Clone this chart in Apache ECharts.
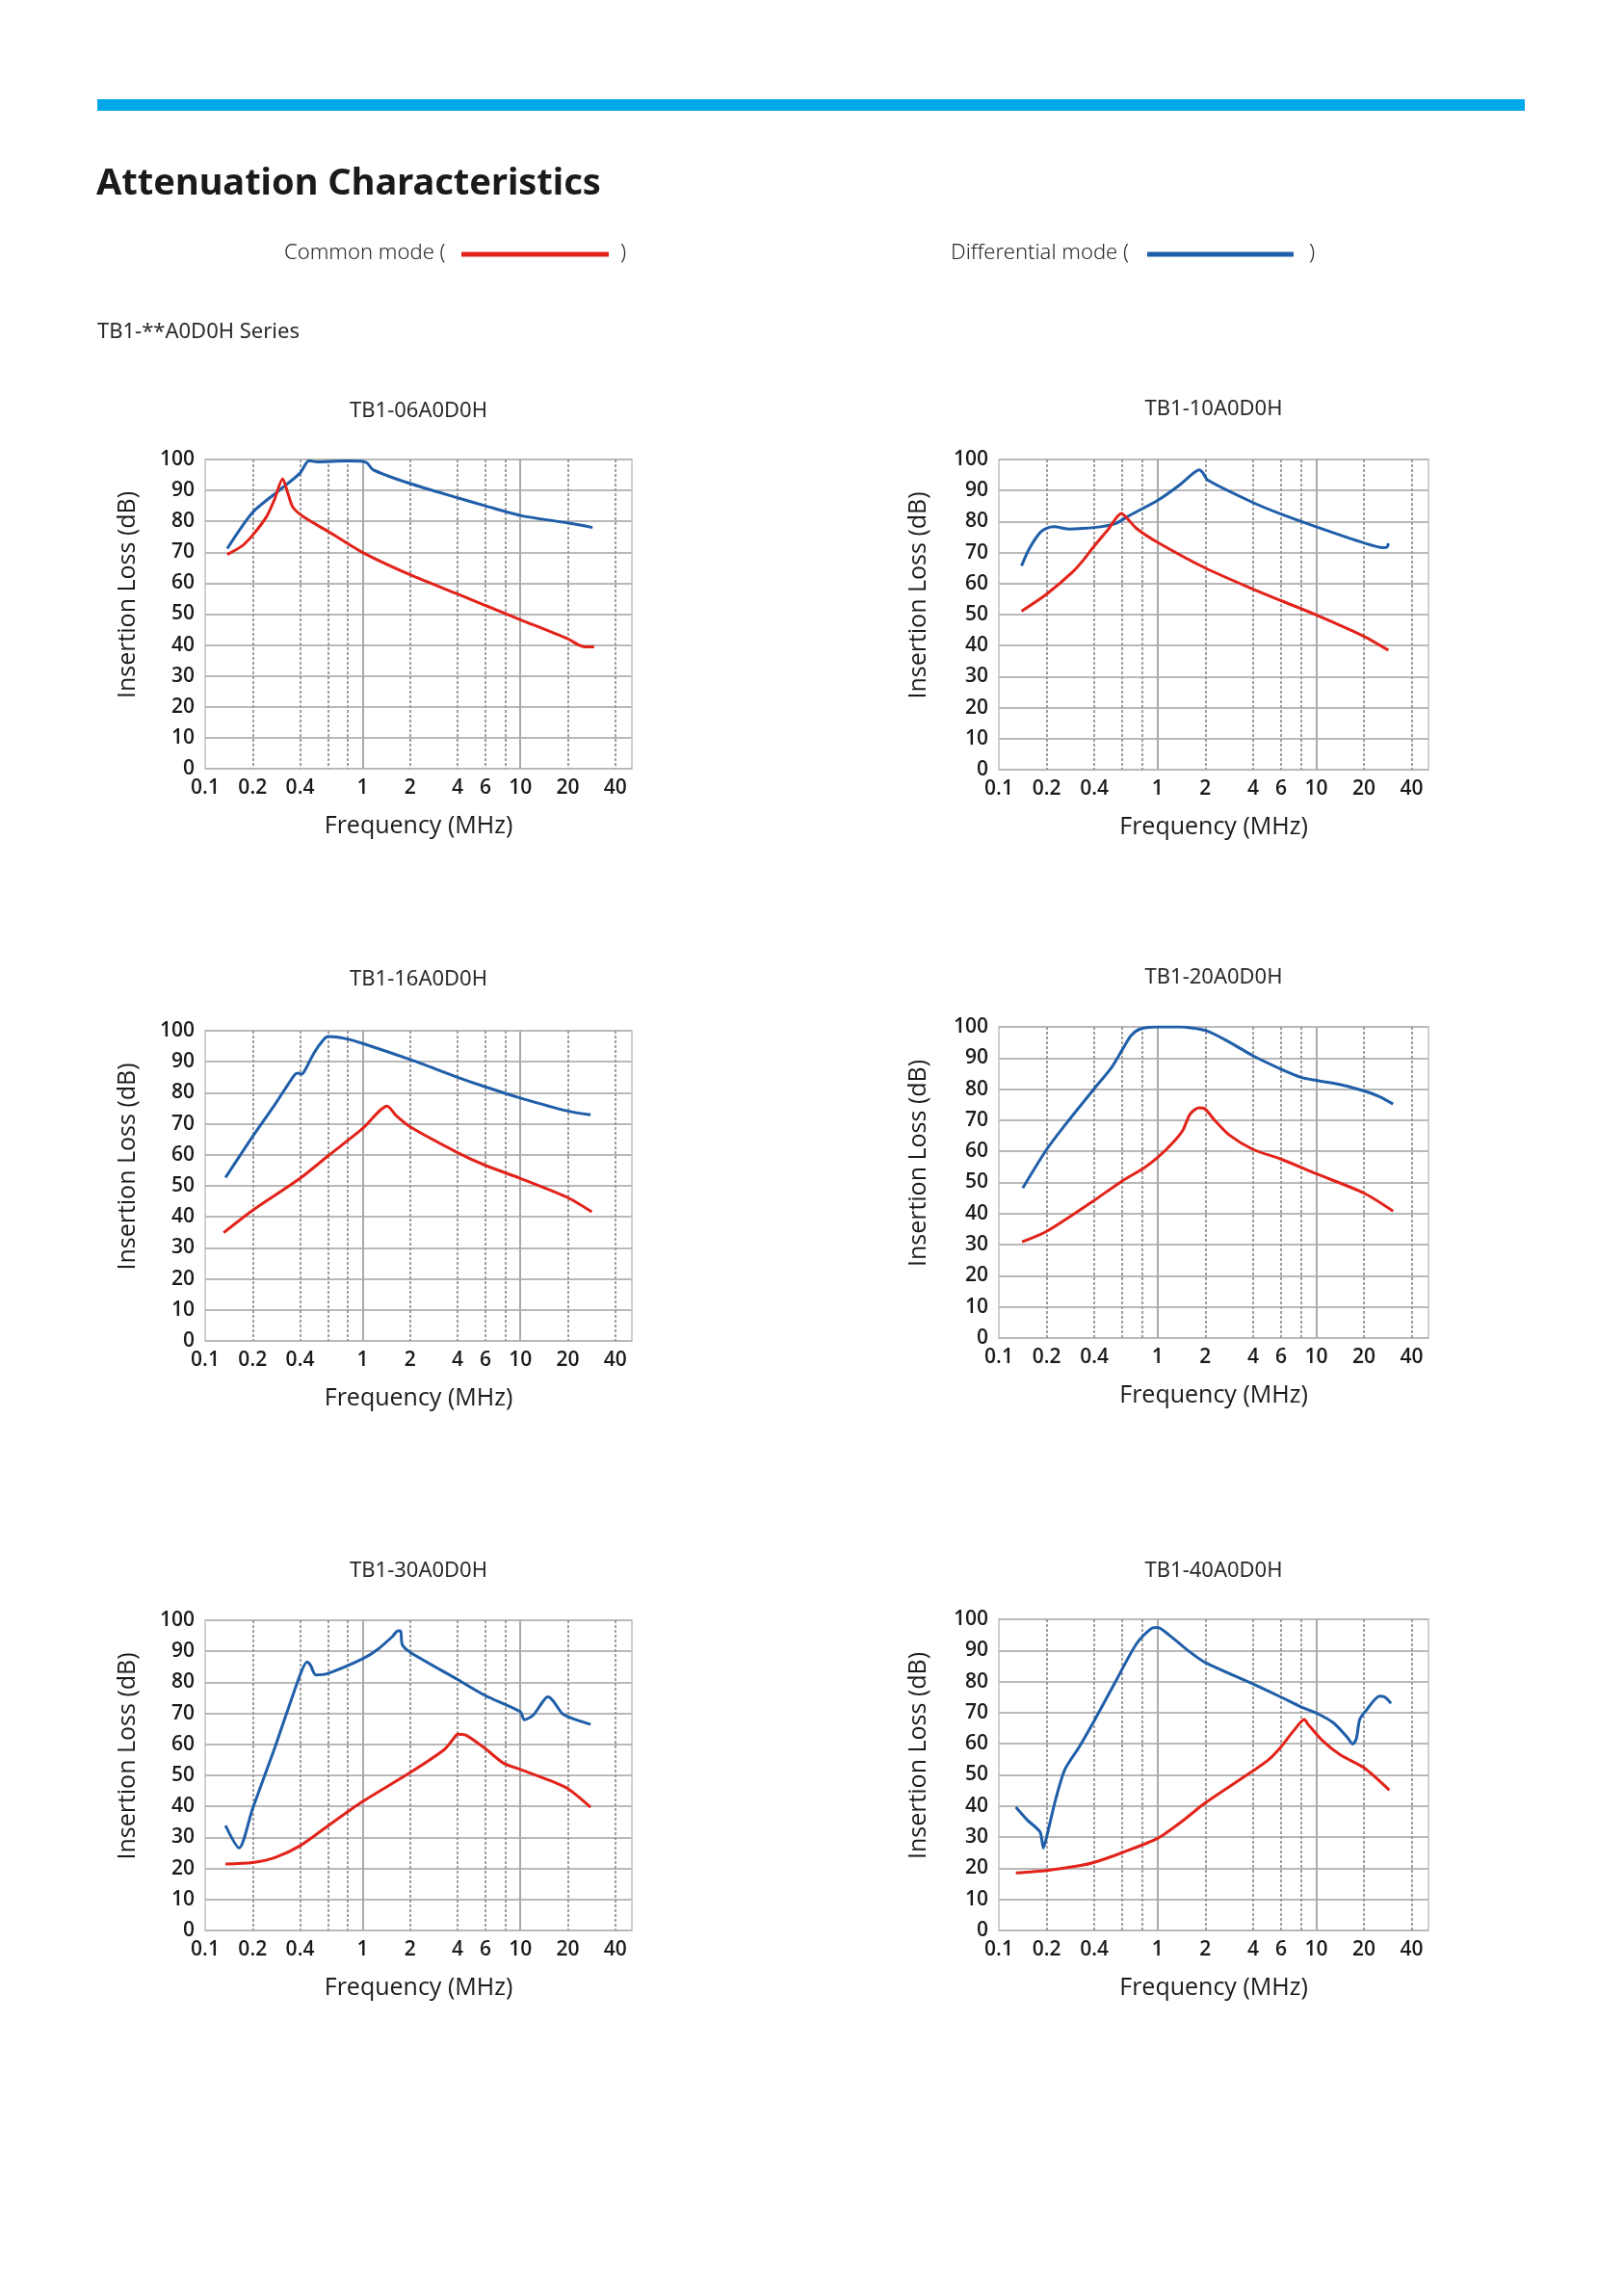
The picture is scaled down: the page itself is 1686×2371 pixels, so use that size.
<!DOCTYPE html>
<html><head><meta charset="utf-8">
<script src="https://cdn.jsdelivr.net/npm/echarts@6/dist/echarts.min.js"></script>
<style>html,body{margin:0;padding:0;background:#fff}#c{width:1686px;height:2371px}</style>
</head><body><div id="c"></div>
<script>
// ---------- DATA ----------
const chartTitles = ['TB1-06A0D0H','TB1-10A0D0H','TB1-16A0D0H','TB1-20A0D0H','TB1-30A0D0H','TB1-40A0D0H'];
const xLabelValues = [0.1,0.2,0.4,1,2,4,6,10,20,40];
const xDashedGrid = [0.2,0.4,0.6,0.8,2,4,6,8,20,40];
const xSolidGrid = [1,10];
const X_MIN = 0.1, X_MAX = 51;

// TB1-06A0D0H
const f06dm = [0.138,0.2,0.3,0.4,0.456,0.517,0.785,1.0,1.07,1.16,2,4,6,10,20,28.7];
const v06dm = [71.2,82.9,90.3,95.6,99.6,99.2,99.5,99.4,98.8,96.7,92.2,87.6,85.0,81.9,79.5,78.0];
const f06cm = [0.138,0.171,0.2,0.245,0.275,0.31,0.337,0.361,0.425,0.605,1,2,4,6,10,20,23.3,25.8,29.4];
const v06cm = [69.3,72.0,75.5,81.5,87.0,93.8,88.6,84.5,81.3,76.7,69.9,62.7,56.5,52.8,48.2,42.0,40.1,39.4,39.4];
// TB1-10A0D0H
const f10dm = [0.139,0.155,0.1815,0.2,0.223,0.275,0.338,0.438,0.54,0.664,1,1.37,1.69,1.83,1.92,2.08,4,6,10,20,26.4,28.0,28.5];
const v10dm = [65.7,71.1,76.4,77.8,78.3,77.6,77.8,78.3,79.3,81.9,86.8,91.7,95.7,96.7,95.9,93.3,86.1,82.4,78.3,73.1,71.6,71.8,73.0];
const f10cm = [0.139,0.2,0.29,0.34,0.395,0.486,0.592,0.647,0.736,1,2.02,4,6,10,20,28.5];
const v10cm = [51.1,56.6,63.6,67.5,71.8,77.3,82.6,80.9,77.8,73.3,64.9,58.2,54.5,49.9,43.0,38.5];
// TB1-16A0D0H
const f16dm = [0.1346,0.2,0.277,0.368,0.388,0.41,0.431,0.49,0.559,0.604,0.785,1,2,4,6,10,20,27.9];
const v16dm = [52.7,65.9,76.2,85.7,86.3,86.0,87.4,92.8,96.9,98.1,97.4,95.9,90.7,85.0,81.9,78.3,74.1,72.9];
const f16cm = [0.131,0.2,0.4,0.604,1,1.43,1.63,2,4,6,10,20,28.4];
const v16cm = [34.9,42.1,52.4,59.7,68.5,75.7,72.6,69.0,60.7,56.6,52.4,46.2,41.6];
// TB1-20A0D0H
const f20dm = [0.1415,0.2,0.275,0.4,0.512,0.599,0.681,0.776,1,1.37,2.02,2.84,4,6,8,10,14.9,20,25,30.5];
const v20dm = [48.2,60.6,69.9,80.2,86.9,92.6,97.2,99.3,100,100,98.8,95.1,90.7,86.4,83.8,82.8,81.2,79.4,77.6,75.2];
const f20cm = [0.14,0.2,0.4,0.599,0.817,1,1.24,1.445,1.6,1.82,1.97,2.3,2.84,4,6,10,20,30.5];
const v20cm = [30.9,34.3,44.3,50.5,54.6,58.0,62.6,66.8,71.9,74.0,73.8,69.9,65.2,60.6,57.5,52.8,46.6,40.8];
// TB1-30A0D0H
const f30dm = [0.1346,0.164,0.2,0.277,0.4,0.443,0.466,0.503,0.604,1,1.25,1.545,1.67,1.74,1.78,2,4,6,10,10.6,12.1,13.8,14.9,16.1,18.4,21,27.9];
const v30dm = [33.8,26.6,39.3,59.0,82.4,86.6,85.5,82.4,82.9,87.6,90.7,94.8,96.6,96.6,92.2,89.7,80.9,75.7,70.5,67.9,69.5,73.6,75.3,74.1,70.0,68.5,66.4];
const f30cm = [0.1346,0.2,0.277,0.4,0.604,1,2,3.29,3.75,4,4.5,6,7.78,10,14.6,20,27.9];
const v30cm = [21.4,21.9,23.5,27.3,33.8,41.6,50.9,58.3,61.7,63.3,63.0,58.6,54.0,51.9,48.8,45.7,39.7];
// TB1-40A0D0H
const f40dm = [0.128,0.151,0.1815,0.191,0.2,0.229,0.261,0.321,0.4,0.54,0.736,0.916,1,1.175,1.6,2,4,6,8,10,12.8,15.7,17,17.9,18.8,20.4,25.1,27.1,29.6];
const v40dm = [39.6,35.5,31.7,26.5,30.1,42.5,51.8,59.0,67.5,79.7,92.1,97.1,97.4,95.1,89.5,86.1,79.2,75.0,71.9,69.9,66.8,62.1,59.9,61.6,67.8,70.4,75.3,75.0,73.0];
const f40cm = [0.128,0.2,0.321,0.4,0.598,1,1.445,2,4,5.02,6,7.21,8.43,8.87,10.9,14.2,20,28.9];
const v40cm = [18.5,19.3,20.8,21.9,25.0,29.6,35.3,41.0,51.3,54.9,59.0,64.2,67.8,66.3,61.1,56.4,52.3,45.1];

const commonMode = [[f06cm,v06cm],[f10cm,v10cm],[f16cm,v16cm],[f20cm,v20cm],[f30cm,v30cm],[f40cm,v40cm]];
const diffMode   = [[f06dm,v06dm],[f10dm,v10dm],[f16dm,v16dm],[f20dm,v20dm],[f30dm,v30dm],[f40dm,v40dm]];

// ---------- LAYOUT / STYLE ----------
const RED = '#e2231a', BLUE = '#1f5ea8', TXT = '#1a1a1a';
const AXF = '"Open Sans", "Noto Sans", sans-serif';
const grids = [
  {left:213, top:477, width:443, height:321},
  {left:1037, top:477, width:446, height:322},
  {left:213, top:1070, width:443, height:322},
  {left:1037, top:1066, width:446, height:323},
  {left:213, top:1682, width:443, height:322},
  {left:1037, top:1681, width:446, height:323}
];
const titleY = [427, 425, 1017, 1015, 1631, 1631];

const zip = (f, v) => f.map((x, i) => [x, v[i]]);
const xAxes = [], yAxes = [], series = [], graphics = [];

grids.forEach((g, i) => {
  g.show = true; g.borderColor = '#d0d0d0'; g.borderWidth = 2; g.backgroundColor = '#fff';
  xAxes.push({
    type:'log', logBase:10, gridIndex:i, min:X_MIN, max:X_MAX,
    name:'Frequency (MHz)', nameLocation:'middle', nameGap:47,
    nameTextStyle:{fontSize:25, fontWeight:500, color:TXT, fontFamily:AXF},
    axisLine:{show:false},
    axisTick:{show:false, customValues:xDashedGrid},
    axisLabel:{customValues:xLabelValues, fontSize:21, fontWeight:600, color:TXT, margin:10, fontFamily:AXF,
      formatter:v => String(Math.round(v*10)/10)},
    splitLine:{show:true, lineStyle:{type:[3,2], color:'#959595', width:1.8}}
  });
  xAxes.push({
    type:'log', logBase:10, gridIndex:i, min:X_MIN, max:X_MAX, position:'top',
    axisLine:{show:false}, axisTick:{show:false, customValues:xSolidGrid}, axisLabel:{show:false},
    splitLine:{show:true, lineStyle:{color:'#aaaaaa', width:2}}
  });
  yAxes.push({
    type:'value', gridIndex:i, min:0, max:100, interval:10,
    name:'Insertion Loss (dB)', nameLocation:'middle', nameGap: (i % 2 === 0) ? 68 : 71,
    nameTextStyle:{fontSize:25, fontWeight:500, color:TXT, fontFamily:AXF, padding:[0,0,0,40]},
    axisLine:{show:false}, axisTick:{show:false},
    axisLabel:{fontSize:21, fontWeight:600, color:TXT, margin:11, fontFamily:AXF},
    splitLine:{show:true, lineStyle:{color:'#b9b9b9', width:2.2}}
  });
  series.push({
    name:'Differential mode', type:'line', xAxisIndex:2*i, yAxisIndex:i,
    data: zip(diffMode[i][0], diffMode[i][1]), showSymbol:false, smooth:0.25,
    lineStyle:{color:BLUE, width:3}, itemStyle:{color:BLUE}, z:5, silent:true
  });
  series.push({
    name:'Common mode', type:'line', xAxisIndex:2*i, yAxisIndex:i,
    data: zip(commonMode[i][0], commonMode[i][1]), showSymbol:false, smooth:0.25,
    lineStyle:{color:RED, width:3}, itemStyle:{color:RED}, z:6, silent:true
  });
  graphics.push({type:'text', x: g.left + g.width/2, y: titleY[i],
    style:{text: chartTitles[i], font:'22px "Noto Sans", sans-serif', fill:'#2a2a2a',
      textAlign:'center', textVerticalAlign:'middle', align:'center', verticalAlign:'middle'}});
});

const T = (text, x, y, font, fill) => ({type:'text', x, y,
  style:{text, font, fill: fill || '#2a2a2a', textAlign:'left', textVerticalAlign:'middle', align:'left', verticalAlign:'middle'}});

graphics.push({type:'rect', shape:{x:101, y:103, width:1482, height:12}, style:{fill:'#00a7e9'}});
graphics.push(T('Attenuation Characteristics', 100, 191, 'bold 38px "Noto Sans", sans-serif', '#1a1a1a'));
graphics.push(T('Common mode (', 295, 263, '300 22px "Noto Sans", sans-serif'));
graphics.push({type:'line', shape:{x1:479, y1:264, x2:632, y2:264}, style:{stroke:RED, lineWidth:5}});
graphics.push(T(')', 644, 263, '300 22px "Noto Sans", sans-serif'));
graphics.push(T('Differential mode (', 987, 263, '300 22px "Noto Sans", sans-serif'));
graphics.push({type:'line', shape:{x1:1191, y1:264, x2:1343, y2:264}, style:{stroke:BLUE, lineWidth:5}});
graphics.push(T(')', 1359, 263, '300 22px "Noto Sans", sans-serif'));
graphics.push(T('TB1-**A0D0H Series', 101, 345, '22px "Noto Sans", sans-serif'));

const chart = echarts.init(document.getElementById('c'), null, {renderer:'canvas'});
chart.setOption({
  backgroundColor:'#fff',
  animation:false,
  grid: grids,
  xAxis: xAxes,
  yAxis: yAxes,
  series: series,
  graphic: graphics
});
</script></body></html>
